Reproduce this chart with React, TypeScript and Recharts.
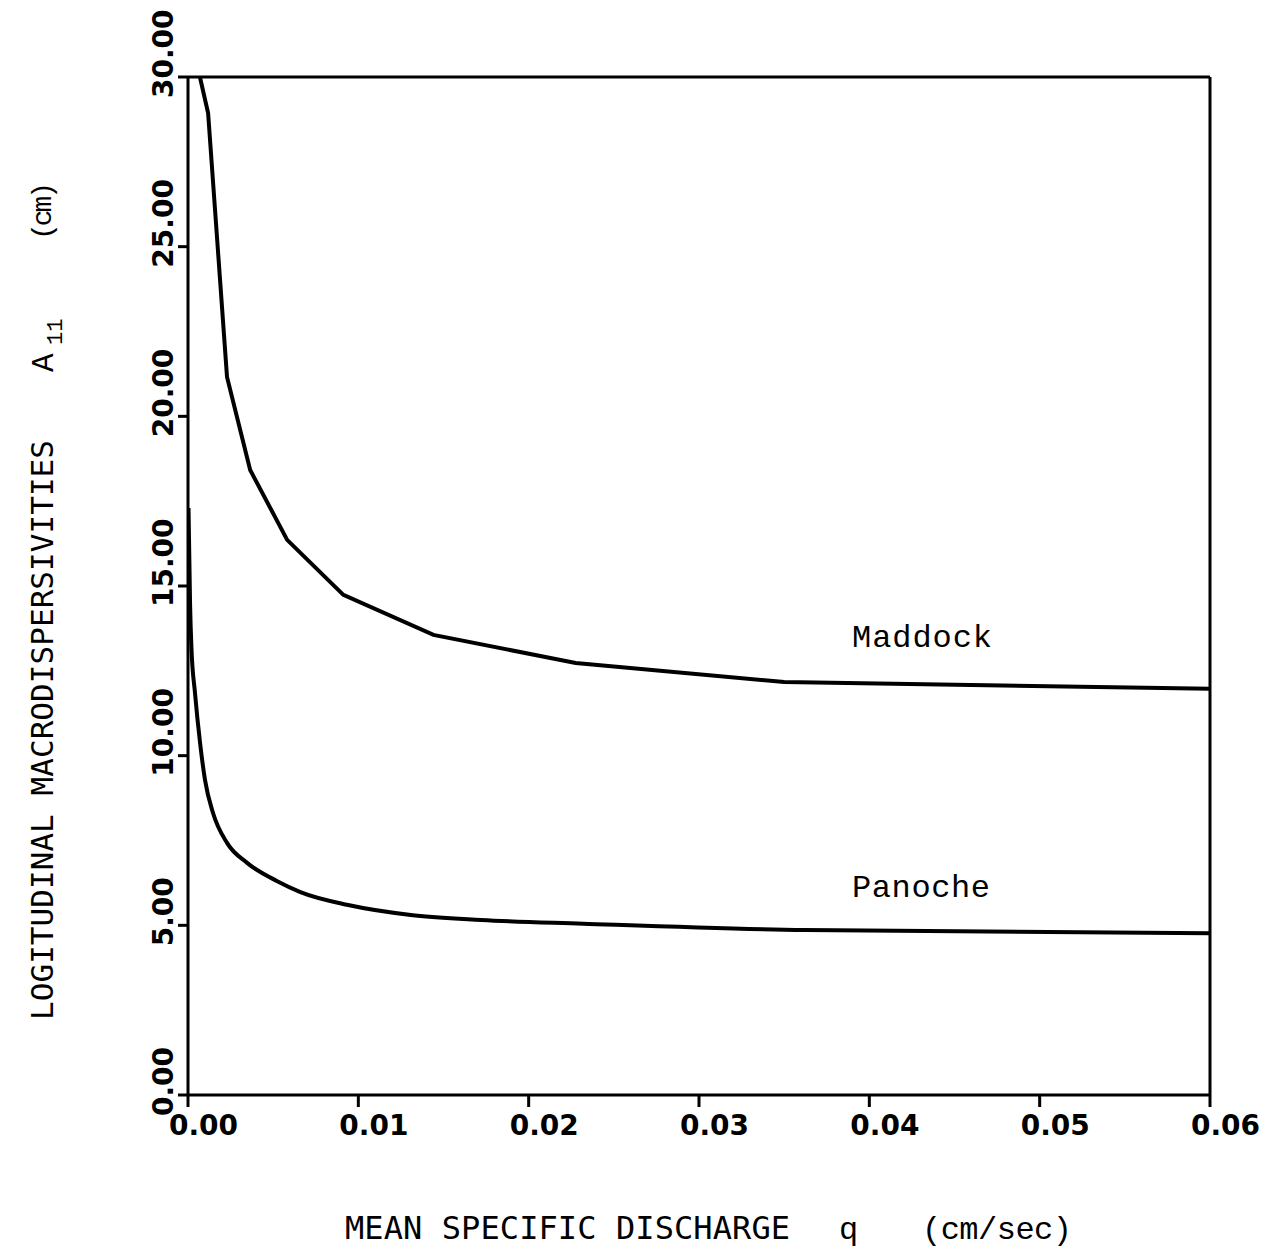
import React from "react";
import { Line, LineChart, ReferenceLine, XAxis, YAxis } from "recharts";

// values
const maddockQ = [0.0007, 0.00118, 0.00229, 0.00365, 0.00582, 0.00912, 0.01441, 0.02276, 0.035, 0.06];
const maddockA = [30.0, 28.94, 21.16, 18.42, 16.36, 14.74, 13.56, 12.73, 12.17, 11.97];

const panocheQ = [0.00003, 0.00012, 0.0002, 0.00041, 0.00071, 0.001, 0.00147, 0.00229, 0.00347, 0.00524, 0.0066, 0.0094, 0.0132, 0.0172, 0.0232, 0.0362, 0.06];
const panocheA = [17.3, 14.5, 13.2, 11.85, 10.37, 9.28, 8.31, 7.43, 6.84, 6.3, 5.98, 5.6, 5.3, 5.16, 5.05, 4.86, 4.77];

const xTicks = [0, 0.01, 0.02, 0.03, 0.04, 0.05, 0.06];
const yTicks = [0, 5, 10, 15, 20, 25, 30];

const maddock = maddockQ.map((q, i) => ({ q, a: maddockA[i] }));
const panoche = panocheQ.map((q, i) => ({ q, a: panocheA[i] }));

const ink = "#000";
const tickFont = "DejaVu Sans";
const titleFont = "DejaVu Sans Mono";
const typeFont = "Liberation Mono";

function XTick(props: any) {
  const { x, y, payload } = props;
  return (
    <text x={x - 19} y={y + 28} fill={ink} fontFamily={tickFont} fontWeight="bold" fontSize={28} textAnchor="start">
      {payload.value.toFixed(2)}
    </text>
  );
}

function YTick(props: any) {
  const { x, y, payload } = props;
  return (
    <text
      transform={`translate(${x - 5},${y + 21}) rotate(-90)`}
      fill={ink}
      fontFamily={tickFont}
      fontWeight="bold"
      fontSize={28}
      textAnchor="start"
    >
      {payload.value.toFixed(2)}
    </text>
  );
}

export default function App() {
  return (
    <div style={{ width: 1259, height: 1245, background: "#fff" }}>
      <LineChart width={1259} height={1245} margin={{ top: 69, right: 57, left: 0, bottom: 0 }}>
        <XAxis
          type="number"
          dataKey="q"
          domain={[0, 0.06]}
          ticks={xTicks}
          allowDataOverflow
          height={158}
          tickSize={12}
          tickMargin={0}
          axisLine={{ stroke: ink, strokeWidth: 3 }}
          tickLine={{ stroke: ink, strokeWidth: 3 }}
          tick={<XTick />}
        />
        <YAxis
          type="number"
          dataKey="a"
          domain={[0, 30]}
          ticks={yTicks}
          allowDataOverflow
          width={180}
          tickSize={10}
          tickMargin={0}
          axisLine={{ stroke: ink, strokeWidth: 3 }}
          tickLine={{ stroke: ink, strokeWidth: 3 }}
          tick={<YTick />}
        />
        <ReferenceLine y={30} stroke={ink} strokeWidth={3} />
        <ReferenceLine x={0.06} stroke={ink} strokeWidth={3} />
        <Line data={maddock} dataKey="a" type="linear" stroke={ink} strokeWidth={4} dot={false} isAnimationActive={false} />
        <Line data={panoche} dataKey="a" type="monotone" stroke={ink} strokeWidth={4} dot={false} isAnimationActive={false} />

        <text x={844} y={639} fill={ink} fontFamily={typeFont} fontSize={32} textLength={140} lengthAdjust="spacing">
          Maddock
        </text>
        <text x={844} y={889} fill={ink} fontFamily={typeFont} fontSize={32} textLength={138} lengthAdjust="spacing">
          Panoche
        </text>

        <text y={1231} fill={ink} fontSize={32}>
          <tspan x={337} fontFamily={titleFont} textLength={445} lengthAdjust="spacing">MEAN SPECIFIC DISCHARGE</tspan>
          <tspan x={831} fontFamily={typeFont}>q</tspan>
          <tspan x={914} fontFamily={typeFont} textLength={150} lengthAdjust="spacing">(cm/sec)</tspan>
        </text>

        <g transform="translate(45,0) rotate(-90)">
          <text y={0} fill={ink} fontSize={31}>
            <tspan x={-1012} fontFamily={titleFont} textLength={580} lengthAdjust="spacing">LOGITUDINAL MACRODISPERSIVITIES</tspan>
          </text>
          <text y={0} fill={ink} fontFamily={typeFont} fontSize={31}>
            <tspan x={-364}>A</tspan>
            <tspan x={-337} dy={9} fontSize={22}>11</tspan>
          </text>
          <text x={-232} y={-2} fill={ink} fontFamily={typeFont} fontSize={28} textLength={58} lengthAdjust="spacing">
            (cm)
          </text>
        </g>
      </LineChart>
    </div>
  );
}
